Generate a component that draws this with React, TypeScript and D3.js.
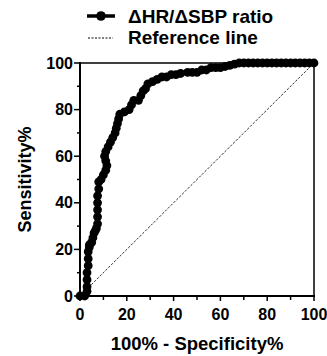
import React from "react";
import * as d3 from "d3";

const rocX = [0, 2, 3, 3, 3, 3, 3.5, 3.5, 3.5, 4, 4, 5, 5.5, 6, 6.5, 7, 7.5, 7.5, 7.5, 7.5, 7.5, 8, 8, 9, 10, 11, 11.5, 11, 10.5, 11, 12, 13, 14, 15, 15.5, 16, 16.5, 17, 19, 21, 22, 23, 25, 26, 27, 28, 29, 31, 33, 35, 37, 39, 41, 43, 46, 48, 50, 52, 54, 56, 58, 60, 62, 64, 66, 68, 70, 72, 74, 76, 78, 80, 82, 84, 86, 88, 90, 92, 94, 96, 98, 100];
const rocY = [0, 0, 2, 4, 7, 10, 13, 16, 19, 21, 22, 23, 25, 27, 28, 29, 31, 34, 37, 40, 43, 46, 49, 50, 52, 54, 56, 58, 60, 62, 64, 66, 68, 70, 72, 74, 76, 78, 79, 80, 82, 84, 84, 86, 88, 89, 91, 92, 93, 94, 94, 95, 95, 95.5, 96, 96, 96, 97, 97, 98, 98, 98, 98.5, 99, 99.5, 100, 100, 100, 100, 100, 100, 100, 100, 100, 100, 100, 100, 100, 100, 100, 100, 100];
const refX = [0, 100];
const refY = [0, 100];
const xTicks = [0, 20, 40, 60, 80, 100];
const yTicks = [0, 20, 40, 60, 80, 100];
const minorTicks = [10, 30, 50, 70, 90];

const FONT = "'Liberation Sans', Arial, sans-serif";

export default function App() {
  const x = d3.scaleLinear().domain([0, 100]).range([80, 314]);
  const y = d3.scaleLinear().domain([0, 100]).range([296, 63]);
  const pts = rocX.map((v, i) => [v, rocY[i]] as [number, number]);
  const line = d3.line<[number, number]>().x(d => x(d[0])).y(d => y(d[1]));
  const refPts = refX.map((v, i) => [v, refY[i]] as [number, number]);

  return (
    <svg width={327} height={356} style={{ position: "absolute", left: 0, top: 0, background: "#fff" }} fontFamily={FONT}>
      {/* legend */}
      <line x1={87} x2={115} y1={16} y2={16} stroke="#000" strokeWidth={3.5} />
      <circle cx={101} cy={16} r={4.8} fill="#000" />
      <text x={128} y={23} fontSize={19} fontWeight="bold">ΔHR/ΔSBP ratio</text>
      <line x1={88} x2={113} y1={38} y2={38} stroke="#000" strokeWidth={1} strokeDasharray="2,1.5" />
      <text x={128} y={44} fontSize={19} fontWeight="bold">Reference line</text>

      {/* frame */}
      <line x1={x(0)} x2={x(100)} y1={y(100)} y2={y(100)} stroke="#000" strokeWidth={1.5} />
      <line x1={x(100)} x2={x(100)} y1={y(100)} y2={y(0)} stroke="#000" strokeWidth={1.5} />
      {/* axes */}
      <line x1={x(0)} x2={x(0)} y1={y(100) - 1} y2={y(0)} stroke="#000" strokeWidth={2} />
      <line x1={x(0)} x2={x(100) + 1} y1={y(0)} y2={y(0)} stroke="#000" strokeWidth={2} />
      {yTicks.map(t => (
        <g key={"y" + t}>
          <line x1={x(0) - 6} x2={x(0)} y1={y(t)} y2={y(t)} stroke="#000" strokeWidth={1.5} />
          <text x={x(0) - 7} y={y(t) + 5.5} fontSize={16} fontWeight="bold" textAnchor="end">{t}</text>
        </g>
      ))}
      {minorTicks.map(t => (
        <line key={"ym" + t} x1={x(0) - 3} x2={x(0)} y1={y(t)} y2={y(t)} stroke="#000" strokeWidth={1.5} />
      ))}
      {xTicks.map(t => (
        <g key={"x" + t}>
          <line x1={x(t)} x2={x(t)} y1={y(0)} y2={y(0) + 5} stroke="#000" strokeWidth={1.5} />
          <text x={x(t)} y={y(0) + 24} fontSize={16} fontWeight="bold" textAnchor="middle">{t}</text>
        </g>
      ))}
      {minorTicks.map(t => (
        <line key={"xm" + t} x1={x(t)} x2={x(t)} y1={y(0)} y2={y(0) + 4} stroke="#000" strokeWidth={1.5} />
      ))}

      {/* reference line */}
      <path d={line(refPts) || ""} stroke="#333" strokeWidth={1} strokeDasharray="2.5,1.5" fill="none" />
      {/* ROC curve */}
      <path d={line(pts) || ""} stroke="#000" strokeWidth={4} fill="none" />
      {pts.map((p, i) => (
        <circle key={i} cx={x(p[0])} cy={y(p[1])} r={4.4} fill="#000" />
      ))}

      <text x={197} y={350} fontSize={18.5} fontWeight="bold" textAnchor="middle">100% - Specificity%</text>
      <text transform={`translate(31,179.5) rotate(-90)`} fontSize={18} fontWeight="bold" textAnchor="middle">Sensitivity%</text>
    </svg>
  );
}
